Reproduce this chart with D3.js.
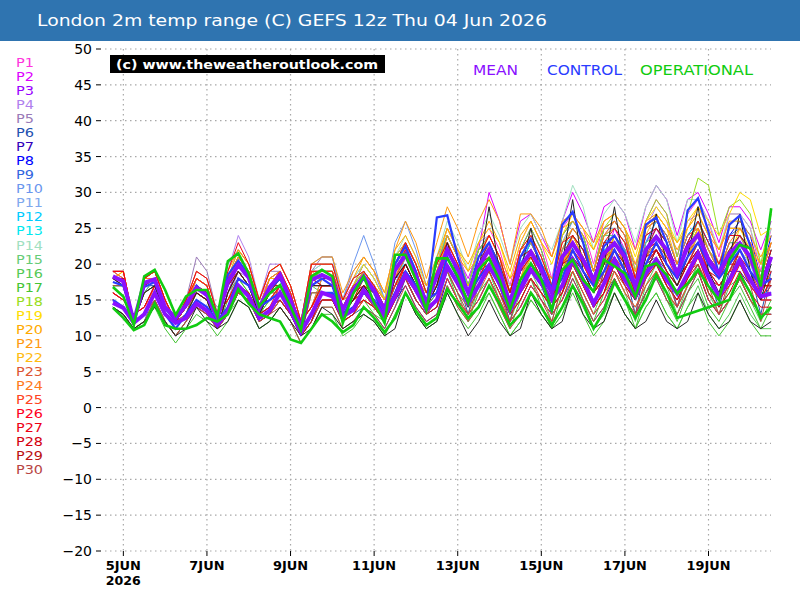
<!DOCTYPE html>
<html>
<head>
<meta charset="utf-8">
<script src="https://cdn.jsdelivr.net/npm/d3@7"></script>
<style>
  body { margin: 0; background: #fff; }
  text { font-family: "DejaVu Sans", sans-serif; }
</style>
</head>
<body>
<svg id="chart" width="800" height="600"></svg>
<script>
// ---- data ----
const title = 'London 2m temp range (C) GEFS 12z Thu 04 Jun 2026';
const startTime = Date.UTC(2026, 5, 4, 18);   // first point 18z 4 Jun, 6-hourly
const stepHours = 6;
const yTicks = [50, 45, 40, 35, 30, 25, 20, 15, 10, 5, 0, -5, -10, -15, -20];
const dayTicks = [5, 7, 9, 11, 13, 15, 17, 19];
const dayLabels = ['5JUN', '7JUN', '9JUN', '11JUN', '13JUN', '15JUN', '17JUN', '19JUN'];
const yearLabel = '2026';

const memberNames = ['P1','P2','P3','P4','P5','P6','P7','P8','P9','P10','P11','P12','P13','P14','P15',
  'P16','P17','P18','P19','P20','P21','P22','P23','P24','P25','P26','P27','P28','P29','P30'];
const memberColors = ['#ff33dd','#dd00ff','#9900ff','#b080ee','#9a7ab8','#2250b0','#3300bb','#0000ff',
  '#3366e0','#6a96ee','#7fa8ee','#00ccff','#00e8f0','#a0e0c0','#66cc77','#55c955','#44c433','#99dd22',
  '#ffdd00','#ffaa00','#ff9a10','#ffbb10','#dd5533','#ff7a1a','#ff4422','#ff0022','#ee0015','#d40010',
  '#bb1111','#b84444'];

const meanMax = [18.3,17.6,12.0,17.4, 17.9,14.0,12.5,14.3, 16.7,15.7,12.5,17.5, 19.9,18.1,13.9,16.8,
  18.5,15.0,11.1,17.8, 18.5,17.8,13.6,16.4, 18.3,16.4,13.6,19.2, 21.3,18.3,14.6,18.3,
  22.0,19.2,16.0,19.7, 22.0,18.7,14.6,19.7, 21.7,19.2,16.0,21.0, 22.9,20.6,17.8,21.5,
  22.9,21.0,16.9,22.0, 23.8,22.0,18.7,22.4, 24.1,20.6,18.7,21.5, 22.9,21.0,16.7,21.0];
const meanMin = [14.6,13.9,11.8,13.0, 16.0,13.0,11.8,12.5, 14.5,13.5,11.5,13.5, 17.0,15.5,12.5,13.5,
  16.0,13.5,10.5,13.0, 16.0,15.5,12.7,13.6, 16.4,14.6,12.7,15.5, 18.5,16.4,13.6,15.0,
  19.7,17.3,14.6,17.0, 19.7,17.3,13.6,16.4, 19.2,17.3,15.0,17.0, 20.6,17.8,14.5,17.3,
  20.6,17.8,15.5,18.7, 20.6,17.8,15.9,18.7, 21.5,18.2,15.5,17.8, 20.6,17.8,15.5,15.9];

const controlMax = [17.5,17.0,12.2,16.8, 17.5,13.8,12.2,14.5, 17.0,15.5,12.0,18.5, 20.5,18.5,13.5,16.5,
  18.0,14.5,11.0,17.0, 18.0,17.0,12.5,16.0, 18.0,16.0,12.5,20.0, 22.5,19.0,14.0,26.5,
  26.8,21.0,16.0,21.0, 23.0,19.5,14.5,21.0, 23.5,20.0,16.5,25.5, 27.3,23.0,17.5,22.5,
  24.0,21.5,16.5,25.5, 26.5,23.0,18.0,27.5, 29.2,24.5,18.5,25.5, 26.8,22.5,16.5,21.0];
const controlMin = [15,14,12,13, 16,13,11,13, 15,14,12,14, 18,17,14,15, 16,14,11,13, 16,16,13,14,
  16,15,13,16, 19,17,15,16, 21,18,16,18, 20,17,14,17, 20,18,16,18, 22,19,17,19,
  22,19,17,20, 23,20,18,21, 23,20,18,20, 22,19,17,18];

const opMax = [16.8,15.5,11.5,18.3, 19.2,16.4,12.9,15.5, 16.4,16.4,12.7,20.4, 21.5,18.7,14.1,15.9,
  17.1,14.1,10.8,18.3, 19.2,18.3,11.8,15.9, 18.3,14.6,11.8,21.3, 21.3,17.8,13.6,20.8,
  20.8,18.3,14.6,19.2, 20.8,17.8,13.6,17.8, 20.1,17.8,13.6,19.2, 20.6,17.8,16.2,20.6,
  19.7,18.7,15.5,19.7, 20.1,18.5,15.9,17.3, 19.2,16.9,15.0,20.6, 22.7,22.2,16.9,27.8];
const opMin = [13.9,12.5,10.8,11.5, 14.5,11.5,11.0,11.0, 11.5,12.5,12.0,13.0, 16.5,14.5,13.0,12.5,
  12.0,9.5,9.0,11.0, 13.0,12.0,10.5,11.5, 14.0,12.5,10.5,12.5, 16.0,13.5,11.5,12.5,
  16.5,14.5,12.5,14.0, 17.0,14.5,11.5,13.0, 16.0,14.0,11.5,14.0, 17.0,14.5,11.0,13.5,
  17.5,15.0,12.5,15.0, 18.5,16.0,12.5,13.0, 13.5,14.0,14.5,15.0, 18.5,16.0,12.5,14.0];

// unlabelled dark pair seen in the spaghetti
const darkMax = [18,17,12,16, 17,13,11,13, 16,15,11,16, 19,17,13,16, 17,14,10,17, 17,17,13,15,
  17,15,13,18, 20,17,14,17, 23,18,14,19, 28,19,14,19, 25,18,14,20, 29,19,16,20,
  28,19,15,21, 27,20,17,21, 28,19,16,21, 27,19,15,20];
const darkMin = [14,13,11,12, 14,12,10,11, 14,12,11,12, 15,14,11,12, 14,12,10,11, 14,13,11,12,
  13,12,10,11, 16,13,11,12, 16,13,10,12, 15,12,10,11, 16,13,11,12, 17,13,11,12,
  16,13,11,12, 15,12,11,12, 16,13,11,12, 15,12,11,12];

// members P1..P30, 6-hourly max line
const membersMax = [
  [18,18,12,17, 18,14,12,14, 17,16,12,17, 21,19,15,18, 19,16,11,19, 19,19,15,17, 19,17,14,20, 23,20,16,20, 25,22,17,23, 25,22,17,23, 26,23,18,25, 27,25,20,26, 27,25,19,26, 29,27,21,27, 29,26,21,27, 27,25,19,25],
  [19,18,12,18, 18,14,12,15, 18,17,12,18, 21,19,14,18, 18,15,11,18, 18,18,14,16, 19,17,14,20, 22,19,15,19, 24,21,18,22, 30,26,20,26, 27,24,21,26, 30,27,23,28, 29,27,22,28, 31,29,24,29, 30,27,23,28, 28,26,22,26],
  [18,17,12,17, 18,14,12,14, 16,15,11,16, 20,18,14,17, 17,14,11,17, 18,18,14,16, 18,16,14,19, 20,17,15,17, 22,19,16,20, 23,20,16,21, 22,19,16,21, 24,22,18,23, 24,22,17,23, 26,24,20,24, 25,22,19,23, 23,21,17,21],
  [19,18,12,18, 19,15,12,15, 19,18,13,19, 24,21,15,20, 20,17,12,20, 20,20,15,18, 19,17,15,20, 23,20,16,20, 25,22,17,23, 24,21,16,22, 23,20,16,22, 25,23,19,24, 26,24,18,25, 28,26,21,26, 27,24,20,25, 25,23,18,23],
  [19,18,12,18, 19,15,12,15, 21,19,13,20, 22,20,15,19, 19,16,11,19, 21,21,15,19, 21,19,15,21, 23,20,16,20, 23,20,16,21, 22,19,15,20, 23,20,16,22, 23,21,18,22, 22,20,16,21, 24,22,19,22, 25,22,19,23, 23,21,17,21],
  [18,17,12,17, 17,13,12,13, 17,16,12,17, 19,17,13,16, 17,14,10,17, 17,17,13,15, 16,14,13,17, 20,17,14,17, 21,18,13,19, 20,17,12,18, 20,17,13,19, 20,18,14,19, 21,19,13,20, 21,19,14,19, 21,18,14,19, 21,19,13,19],
  [18,18,12,17, 18,14,12,14, 16,15,11,16, 19,17,13,16, 18,15,11,18, 17,17,13,15, 17,15,13,18, 19,16,14,16, 20,17,15,18, 21,18,14,19, 20,17,15,19, 21,19,17,20, 20,18,15,19, 22,20,18,20, 21,18,17,19, 19,17,15,17],
  [18,18,12,17, 18,14,12,14, 18,17,12,18, 21,19,14,18, 19,16,11,19, 19,19,14,17, 20,18,15,21, 23,20,16,20, 24,21,17,22, 24,21,16,22, 25,22,17,24, 26,24,19,25, 26,24,18,25, 26,24,20,24, 26,23,20,24, 26,24,18,24],
  [17,17,12,16, 18,14,12,14, 17,16,12,17, 20,18,14,17, 17,14,11,17, 18,18,14,16, 19,17,14,20, 22,19,15,19, 23,20,16,21, 22,19,15,20, 23,20,16,22, 25,23,19,24, 25,23,18,24, 25,23,19,23, 26,23,20,24, 25,23,18,23],
  [19,19,12,18, 19,15,12,15, 18,17,12,18, 22,20,15,19, 20,17,12,20, 21,21,15,20, 24,20,15,23, 26,22,17,21, 24,21,17,22, 23,20,15,21, 24,21,17,23, 26,24,19,25, 25,23,18,24, 25,23,19,23, 26,23,20,24, 24,22,17,22],
  [18,18,12,17, 18,14,12,14, 18,17,12,18, 20,18,14,17, 19,16,11,19, 20,20,15,18, 20,18,15,21, 23,20,16,20, 23,20,16,21, 23,20,15,21, 22,19,16,21, 24,22,18,23, 23,21,17,22, 25,23,19,23, 24,21,19,22, 22,20,16,20],
  [17,17,12,16, 17,13,12,13, 17,16,12,17, 20,18,14,17, 17,14,11,17, 18,18,14,16, 19,17,14,20, 22,19,15,19, 22,19,16,20, 22,19,15,20, 23,20,16,22, 24,22,18,23, 24,22,17,23, 26,24,20,24, 26,23,20,24, 24,22,17,22],
  [18,18,12,17, 18,14,12,14, 18,17,12,18, 21,19,14,18, 18,15,11,18, 19,19,14,17, 18,16,14,19, 20,17,15,17, 21,18,15,19, 22,19,15,20, 21,18,16,20, 23,21,18,22, 23,21,17,22, 23,21,19,21, 24,21,19,22, 24,22,17,22],
  [18,18,12,17, 18,14,12,14, 17,16,12,17, 21,19,14,18, 19,16,11,19, 20,20,15,18, 20,18,15,21, 24,21,16,21, 26,23,19,24, 27,24,20,25, 27,24,22,26, 31,28,22,27, 29,27,23,28, 31,29,23,29, 29,26,22,27, 27,25,20,25],
  [17,17,12,16, 18,14,12,14, 18,17,12,18, 20,18,14,17, 18,15,11,18, 19,19,14,17, 19,17,14,20, 23,20,16,20, 24,21,17,22, 23,20,15,21, 23,20,16,22, 25,23,19,24, 24,22,17,23, 24,22,19,22, 25,22,19,23, 23,21,17,21],
  [17,17,12,16, 17,13,11,13, 16,15,11,16, 18,16,13,15, 17,14,10,17, 16,16,13,14, 16,14,13,17, 19,16,14,16, 19,16,12,17, 19,15,12,16, 19,16,12,17, 19,16,13,17, 19,16,12,17, 20,17,13,17, 20,16,13,17, 18,15,12,15],
  [17,17,12,16, 17,13,11,13, 15,14,11,15, 18,16,13,15, 16,13,10,16, 16,16,13,14, 15,13,12,16, 18,15,13,15, 19,15,12,16, 18,14,11,15, 18,14,11,16, 19,15,12,16, 18,15,11,16, 19,15,12,16, 18,14,12,15, 17,14,11,14],
  [18,18,12,17, 18,14,12,14, 17,16,12,17, 21,19,14,18, 18,15,11,18, 19,19,14,17, 19,17,14,20, 22,19,15,19, 24,21,17,22, 24,21,16,22, 25,22,17,24, 26,24,19,25, 27,25,19,26, 29,27,21,27, 32,31,24,28, 29,27,20,27],
  [18,19,12,18, 19,15,12,15, 18,17,12,18, 21,19,14,18, 19,16,11,19, 19,19,14,17, 20,18,15,21, 23,20,16,20, 25,22,19,23, 25,23,18,23, 26,23,20,24, 27,25,22,26, 27,25,21,26, 28,26,23,26, 28,26,24,27, 30,29,24,25],
  [18,19,12,18, 19,15,12,15, 18,17,12,18, 22,20,15,19, 20,17,12,20, 20,20,15,18, 21,19,16,22, 24,21,17,21, 25,22,20,23, 26,23,19,24, 26,23,21,25, 26,24,22,25, 26,24,20,25, 27,25,23,25, 28,25,22,26, 26,24,21,24],
  [19,19,12,18, 19,15,12,15, 19,18,13,19, 22,20,15,19, 20,17,12,20, 21,21,16,19, 21,19,16,22, 26,23,18,23, 28,25,21,26, 29,26,20,27, 27,25,21,26, 27,25,23,26, 27,25,22,26, 27,25,22,25, 27,24,22,25, 25,23,20,23],
  [18,18,12,17, 18,14,12,14, 18,17,12,18, 21,19,14,18, 18,15,11,18, 18,18,14,16, 19,17,14,20, 22,19,15,19, 23,20,16,21, 24,21,16,22, 24,21,17,23, 25,23,19,24, 25,23,18,24, 27,25,20,25, 27,24,20,25, 25,23,18,23],
  [18,17,12,17, 18,13,12,13, 17,16,12,17, 19,17,13,16, 18,15,11,18, 17,17,13,15, 17,15,13,18, 21,18,15,18, 21,18,15,19, 21,18,14,19, 22,19,16,21, 22,20,17,21, 22,20,16,21, 24,22,19,22, 23,20,18,21, 23,21,17,21],
  [19,18,12,18, 18,14,12,14, 18,17,12,18, 21,19,14,18, 19,16,11,19, 18,18,14,16, 19,17,14,20, 23,20,16,20, 23,20,16,21, 24,21,16,22, 23,20,16,22, 25,23,19,24, 26,24,18,25, 26,24,20,24, 25,22,19,23, 25,23,18,23],
  [18,18,12,17, 18,14,12,14, 16,15,11,16, 19,17,13,16, 17,14,10,17, 17,17,13,15, 16,14,13,17, 20,17,14,17, 20,17,15,18, 20,17,14,18, 20,17,15,19, 20,18,16,19, 21,19,16,20, 22,20,18,20, 21,18,17,19, 20,18,15,18],
  [19,19,12,18, 19,15,12,15, 18,17,12,18, 20,18,14,17, 19,16,11,19, 19,19,14,17, 18,16,14,19, 22,19,15,19, 22,19,16,20, 22,19,15,20, 21,18,15,20, 22,20,17,21, 23,21,17,22, 23,21,18,21, 23,20,18,21, 21,19,16,19],
  [19,19,12,18, 19,15,12,15, 19,18,13,19, 23,20,15,19, 20,17,12,20, 20,20,15,18, 19,17,14,20, 23,20,16,20, 23,20,16,21, 24,21,16,22, 24,21,17,23, 24,22,18,23, 25,23,18,24, 25,23,19,23, 26,23,20,24, 24,22,17,22],
  [18,18,12,17, 18,14,12,14, 17,16,12,17, 20,18,14,17, 17,14,11,17, 18,18,14,16, 17,15,13,18, 20,17,14,17, 22,19,16,20, 21,18,14,19, 21,18,15,20, 21,19,17,20, 22,20,16,21, 22,20,18,20, 22,19,18,20, 20,18,15,18],
  [18,18,12,17, 18,14,12,14, 17,16,12,17, 19,17,13,16, 18,15,11,18, 17,17,13,15, 18,16,14,19, 21,18,15,18, 22,19,16,20, 23,20,16,21, 22,19,16,21, 24,22,18,23, 23,21,17,22, 25,23,19,23, 24,21,19,22, 24,22,17,22],
  [17,17,12,16, 17,13,11,13, 16,15,11,16, 19,17,13,16, 16,13,10,16, 16,16,13,14, 16,14,13,17, 18,15,13,15, 19,16,13,17, 19,16,12,17, 18,15,12,17, 20,17,14,19, 19,17,13,18, 21,18,14,19, 20,17,13,18, 20,17,12,18]
];

// members P1..P30, 6-hourly min line
const membersMin = [
  [15,14,12,13, 16,13,11,13, 15,14,12,14, 18,17,14,15, 17,15,12,14, 17,17,14,15, 17,16,14,17, 20,17,15,16, 22,19,17,19, 22,19,16,18, 22,20,18,20, 24,21,18,20, 24,21,19,22, 24,21,19,22, 25,21,19,21, 24,21,19,19],
  [15,14,12,13, 16,13,11,13, 15,14,12,14, 18,17,14,15, 16,14,11,13, 16,16,13,14, 17,16,14,17, 20,17,15,16, 21,18,16,18, 23,20,17,19, 21,19,17,19, 24,21,18,20, 25,22,20,23, 25,22,20,23, 26,22,20,22, 24,21,19,19],
  [15,14,12,13, 16,13,11,13, 14,13,11,13, 17,16,13,14, 15,13,10,12, 16,16,13,14, 16,15,13,16, 18,15,13,14, 20,17,15,17, 20,17,14,16, 19,17,15,17, 21,18,15,17, 22,19,17,20, 22,19,17,20, 22,18,16,18, 21,18,16,16],
  [16,15,13,14, 17,14,12,14, 16,15,13,15, 19,18,15,16, 17,15,12,14, 17,17,14,15, 17,16,14,17, 20,17,15,16, 22,19,17,19, 21,18,15,17, 20,18,16,18, 22,19,16,18, 23,20,18,21, 23,20,18,21, 24,20,18,20, 22,19,17,17],
  [16,15,13,14, 17,14,12,14, 17,16,14,16, 18,17,14,15, 17,15,12,14, 18,18,15,16, 17,16,14,17, 20,17,15,16, 20,17,15,17, 20,17,14,16, 19,17,15,17, 20,17,14,16, 20,17,15,18, 21,18,16,19, 22,18,16,18, 20,17,15,15],
  [15,14,12,13, 15,12,10,12, 14,13,11,13, 16,15,12,13, 15,13,10,12, 15,15,12,13, 14,13,11,14, 18,15,13,14, 18,15,13,15, 18,15,12,14, 17,15,13,15, 18,15,12,14, 18,15,13,16, 18,15,13,16, 19,15,13,15, 18,15,13,13],
  [15,14,12,13, 16,13,11,13, 14,13,11,13, 16,15,12,13, 15,13,10,12, 15,15,12,13, 15,14,12,15, 17,14,12,13, 18,15,13,15, 18,15,12,14, 17,15,13,15, 19,16,13,15, 18,15,13,16, 19,16,14,17, 19,15,13,15, 18,15,13,13],
  [15,14,12,13, 16,13,11,13, 16,15,13,15, 18,17,14,15, 17,15,12,14, 17,17,14,15, 17,16,14,17, 21,18,16,17, 22,19,17,19, 22,19,16,18, 21,19,17,19, 23,20,17,19, 23,20,18,21, 23,20,18,21, 24,20,18,20, 23,20,18,18],
  [14,13,11,12, 16,13,11,13, 15,14,12,14, 17,16,13,14, 15,13,10,12, 16,16,13,14, 16,15,13,16, 20,17,15,16, 21,18,16,18, 20,17,14,16, 20,18,16,18, 22,19,16,18, 22,19,17,20, 22,19,17,20, 23,19,17,19, 22,19,17,17],
  [16,15,13,14, 17,14,12,14, 16,15,13,15, 18,17,14,15, 17,15,12,14, 18,18,15,16, 18,17,15,18, 21,18,16,17, 21,18,16,18, 21,18,15,17, 20,18,16,18, 23,20,17,19, 22,19,17,20, 22,19,17,20, 23,19,17,19, 21,18,16,16],
  [15,14,12,13, 16,13,11,13, 15,14,12,14, 17,16,13,14, 16,14,11,13, 17,17,14,15, 17,16,14,17, 20,17,15,16, 20,17,15,17, 20,17,14,16, 19,17,15,17, 21,18,15,17, 21,18,16,19, 21,18,16,19, 22,18,16,18, 20,17,15,15],
  [14,13,11,12, 15,12,10,12, 15,14,12,14, 17,16,13,14, 15,13,10,12, 16,16,13,14, 16,15,13,16, 19,16,14,15, 20,17,15,17, 20,17,14,16, 19,17,15,17, 22,19,16,18, 22,19,17,20, 22,19,17,20, 23,19,17,19, 22,19,17,17],
  [15,14,12,13, 16,13,11,13, 15,14,12,14, 18,17,14,15, 16,14,11,13, 16,16,13,14, 16,15,13,16, 18,15,13,14, 19,16,14,16, 20,17,14,16, 18,16,14,16, 21,18,15,17, 21,18,16,19, 20,17,15,18, 22,18,16,18, 21,18,16,16],
  [15,14,12,13, 16,13,11,13, 15,14,12,14, 18,17,14,15, 17,15,12,14, 17,17,14,15, 17,16,14,17, 21,18,16,17, 22,19,17,19, 23,20,17,19, 22,20,18,20, 24,21,18,20, 24,21,19,22, 24,21,19,22, 24,20,18,20, 23,20,18,18],
  [14,13,11,12, 15,12,10,12, 15,14,12,14, 16,15,12,13, 15,13,10,12, 16,16,13,14, 15,14,12,15, 19,16,14,15, 20,17,15,17, 19,16,13,15, 18,16,14,16, 20,17,14,16, 19,16,14,17, 19,16,14,17, 20,16,14,16, 18,15,13,13],
  [14,13,11,12, 15,12,10,12, 14,13,11,13, 15,14,11,12, 14,12,9,11, 14,14,11,12, 13,12,10,13, 16,13,11,12, 17,14,12,14, 16,13,10,12, 15,13,11,13, 17,14,11,13, 16,13,11,14, 16,13,11,14, 17,13,11,13, 16,13,11,11],
  [14,13,11,12, 14,11,9,11, 13,12,10,12, 15,14,11,12, 14,12,9,11, 13,13,10,11, 13,12,10,13, 16,13,11,12, 16,13,11,13, 16,13,10,12, 15,13,11,13, 16,13,10,12, 16,13,11,14, 16,13,11,14, 16,12,10,12, 15,12,10,10],
  [15,14,12,13, 16,13,11,13, 15,14,12,14, 17,16,13,14, 16,14,11,13, 17,17,14,15, 17,16,14,17, 20,17,15,16, 21,18,16,18, 21,18,15,17, 21,19,17,19, 23,20,17,19, 24,21,19,22, 24,21,19,22, 26,22,20,22, 24,21,19,19],
  [15,14,12,13, 16,13,11,13, 16,15,13,15, 18,17,14,15, 17,15,12,14, 17,17,14,15, 17,16,14,17, 20,17,15,16, 22,19,17,19, 22,19,16,18, 21,19,17,19, 24,21,18,20, 24,21,19,22, 24,21,19,22, 25,21,19,21, 25,22,20,20],
  [15,14,12,13, 17,14,12,14, 16,15,13,15, 18,17,14,15, 17,15,12,14, 17,17,14,15, 18,17,15,18, 21,18,16,17, 22,19,17,19, 22,19,16,18, 22,20,18,20, 23,20,17,19, 23,20,18,21, 23,20,18,21, 25,21,19,21, 23,20,18,18],
  [16,15,13,14, 17,14,12,14, 16,15,13,15, 18,17,14,15, 17,15,12,14, 18,18,15,16, 18,17,15,18, 22,19,17,18, 24,21,19,21, 24,21,18,20, 22,20,18,20, 24,21,18,20, 24,21,19,22, 23,20,18,21, 24,20,18,20, 22,19,17,17],
  [15,14,12,13, 16,13,11,13, 15,14,12,14, 18,17,14,15, 16,14,11,13, 16,16,13,14, 16,15,13,16, 20,17,15,16, 21,18,16,18, 21,18,15,17, 20,18,16,18, 22,19,16,18, 22,19,17,20, 23,20,18,21, 24,20,18,20, 22,19,17,17],
  [15,14,12,13, 15,12,10,12, 15,14,12,14, 16,15,12,13, 16,14,11,13, 15,15,12,13, 15,14,12,15, 19,16,14,15, 19,16,14,16, 19,16,13,15, 18,16,14,16, 20,17,14,16, 20,17,15,18, 20,17,15,18, 21,17,15,17, 20,17,15,15],
  [16,15,13,14, 16,13,11,13, 15,14,12,14, 18,17,14,15, 17,15,12,14, 16,16,13,14, 17,16,14,17, 20,17,15,16, 21,18,16,18, 21,18,15,17, 20,18,16,18, 23,20,17,19, 23,20,18,21, 22,19,17,20, 23,19,17,19, 22,19,17,17],
  [15,14,12,13, 16,13,11,13, 14,13,11,13, 16,15,12,13, 15,13,10,12, 15,15,12,13, 15,14,12,15, 18,15,13,14, 18,15,13,15, 18,15,12,14, 17,15,13,15, 19,16,13,15, 19,16,14,17, 19,16,14,17, 19,15,13,15, 18,15,13,13],
  [16,15,13,14, 17,14,12,14, 16,15,13,15, 17,16,13,14, 17,15,12,14, 17,17,14,15, 16,15,13,16, 20,17,15,16, 20,17,15,17, 20,17,14,16, 18,16,14,16, 20,17,14,16, 21,18,16,19, 20,17,15,18, 21,17,15,17, 20,17,15,15],
  [16,15,13,14, 17,14,12,14, 16,15,13,15, 18,17,14,15, 17,15,12,14, 17,17,14,15, 17,16,14,17, 20,17,15,16, 21,18,16,18, 21,18,15,17, 20,18,16,18, 22,19,16,18, 22,19,17,20, 22,19,17,20, 23,19,17,19, 22,19,17,17],
  [15,14,12,13, 16,13,11,13, 15,14,12,14, 17,16,13,14, 15,13,10,12, 16,16,13,14, 15,14,12,15, 18,15,13,14, 20,17,15,17, 19,16,13,15, 18,16,14,16, 20,17,14,16, 20,17,15,18, 20,17,15,18, 20,16,14,16, 19,16,14,14],
  [15,14,12,13, 16,13,11,13, 15,14,12,14, 16,15,12,13, 16,14,11,13, 15,15,12,13, 16,15,13,16, 19,16,14,15, 20,17,15,17, 20,17,14,16, 19,17,15,17, 22,19,16,18, 21,18,16,19, 22,19,17,20, 22,18,16,18, 22,19,17,17],
  [14,13,11,12, 15,12,10,12, 14,13,11,13, 16,15,12,13, 14,12,9,11, 14,14,11,12, 14,13,11,14, 17,14,12,13, 17,14,12,14, 17,14,11,13, 16,14,12,14, 18,15,12,14, 18,15,13,16, 18,15,13,16, 19,15,13,15, 18,15,13,13]
];

// ---- chart ----
const svg = d3.select('#chart');

const timeAt = i => new Date(startTime + i * stepHours * 3600e3);
const x = d3.scaleUtc()
    .domain([timeAt(0), timeAt(63)])
    .range([112.9, 771.2]);
const y = d3.scaleLinear()
    .domain([-20, 50])
    .range([551, 49]);
const plotLeft = 105, plotRight = 771;

// title bar
svg.append('rect')
    .attr('x', 0).attr('y', 0)
    .attr('width', 800).attr('height', 41)
    .attr('fill', '#2f74b0');
svg.append('text')
    .attr('x', 37).attr('y', 26)
    .attr('fill', '#fff')
    .attr('font-size', '16px')
    .attr('textLength', 510)
    .attr('lengthAdjust', 'spacingAndGlyphs')
    .text(title);

// dotted grid
svg.append('g').selectAll('line')
    .data(yTicks)
    .enter().append('line')
    .attr('x1', plotLeft).attr('x2', plotRight)
    .attr('y1', d => y(d)).attr('y2', d => y(d))
    .attr('stroke', '#a8a8a8')
    .attr('stroke-width', 1.2)
    .attr('stroke-dasharray', '1.5,3.5');

const dayDates = dayTicks.map(d => new Date(Date.UTC(2026, 5, d)));
svg.append('g').selectAll('line')
    .data(dayDates)
    .enter().append('line')
    .attr('x1', d => x(d)).attr('x2', d => x(d))
    .attr('y1', y(50)).attr('y2', y(-20))
    .attr('stroke', '#a8a8a8')
    .attr('stroke-width', 1.2)
    .attr('stroke-dasharray', '1.5,3.5');

// y ticks and labels
svg.append('g').selectAll('line')
    .data(yTicks)
    .enter().append('line')
    .attr('x1', 96).attr('x2', 101)
    .attr('y1', d => y(d)).attr('y2', d => y(d))
    .attr('stroke', '#000');
svg.append('g').selectAll('text')
    .data(yTicks)
    .enter().append('text')
    .attr('x', 92)
    .attr('y', d => y(d) + 5)
    .attr('text-anchor', 'end')
    .attr('font-size', '14px')
    .attr('fill', '#000')
    .text(d => String(d).replace('-', '\u2212'));

// x ticks and labels
svg.append('g').selectAll('line')
    .data(dayDates)
    .enter().append('line')
    .attr('x1', d => x(d)).attr('x2', d => x(d))
    .attr('y1', y(-20)).attr('y2', y(-20) + 5)
    .attr('stroke', '#000');
svg.append('g').selectAll('text')
    .data(dayDates)
    .enter().append('text')
    .attr('x', d => x(d))
    .attr('y', 570)
    .attr('text-anchor', 'middle')
    .attr('font-size', '11.5px')
    .attr('font-weight', 'bold')
    .attr('fill', '#000')
    .attr('textLength', (d, i) => dayLabels[i].length * 8.8)
    .attr('lengthAdjust', 'spacingAndGlyphs')
    .text((d, i) => dayLabels[i]);
svg.append('text')
    .attr('x', x(dayDates[0]) - 17.5)
    .attr('y', 585)
    .attr('font-size', '11.5px')
    .attr('font-weight', 'bold')
    .attr('textLength', 35)
    .attr('lengthAdjust', 'spacingAndGlyphs')
    .text(yearLabel);

// lines
const line = d3.line()
    .x((d, i) => x(timeAt(i)))
    .y(d => y(d));

const members = svg.append('g');
membersMax.forEach(function (s, k) {
  members.append('path').attr('d', line(s))
      .attr('fill', 'none').attr('stroke', memberColors[k]).attr('stroke-width', 1);
  members.append('path').attr('d', line(membersMin[k]))
      .attr('fill', 'none').attr('stroke', memberColors[k]).attr('stroke-width', 1);
});
[darkMax, darkMin].forEach(function (s) {
  members.append('path').attr('d', line(s))
      .attr('fill', 'none').attr('stroke', '#222').attr('stroke-width', 1);
});

[controlMax, controlMin].forEach(function (s) {
  svg.append('path').attr('d', line(s))
      .attr('fill', 'none').attr('stroke', '#2a3cff').attr('stroke-width', 2.2);
});
[meanMax, meanMin].forEach(function (s) {
  svg.append('path').attr('d', line(s))
      .attr('fill', 'none').attr('stroke', '#8a10ff').attr('stroke-width', 4);
});
[opMax, opMin].forEach(function (s) {
  svg.append('path').attr('d', line(s))
      .attr('fill', 'none').attr('stroke', '#11cc11').attr('stroke-width', 2.6);
});

// member legend
svg.append('g').selectAll('text')
    .data(memberNames)
    .enter().append('text')
    .attr('x', 16)
    .attr('y', (d, i) => 67 + i * 14.04)
    .attr('font-size', '12px')
    .attr('fill', (d, i) => memberColors[i])
    .attr('textLength', d => d.length * 9)
    .attr('lengthAdjust', 'spacingAndGlyphs')
    .text(d => d);

// copyright box
svg.append('rect')
    .attr('x', 110).attr('y', 55)
    .attr('width', 275).attr('height', 18)
    .attr('fill', '#000');
svg.append('text')
    .attr('x', 116).attr('y', 69)
    .attr('fill', '#fff')
    .attr('font-size', '12.5px')
    .attr('font-weight', 'bold')
    .attr('textLength', 262)
    .attr('lengthAdjust', 'spacingAndGlyphs')
    .text('(c) www.theweatheroutlook.com');

// series legend
const seriesLegend = [
  {label: 'MEAN', x: 473, w: 45, color: '#8a10ff'},
  {label: 'CONTROL', x: 547, w: 75, color: '#2a3cff'},
  {label: 'OPERATIONAL', x: 640, w: 113, color: '#11cc11'}
];
svg.append('g').selectAll('text')
    .data(seriesLegend)
    .enter().append('text')
    .attr('x', d => d.x)
    .attr('y', 75)
    .attr('font-size', '14px')
    .attr('fill', d => d.color)
    .attr('textLength', d => d.w)
    .attr('lengthAdjust', 'spacingAndGlyphs')
    .text(d => d.label);
</script>
</body>
</html>
